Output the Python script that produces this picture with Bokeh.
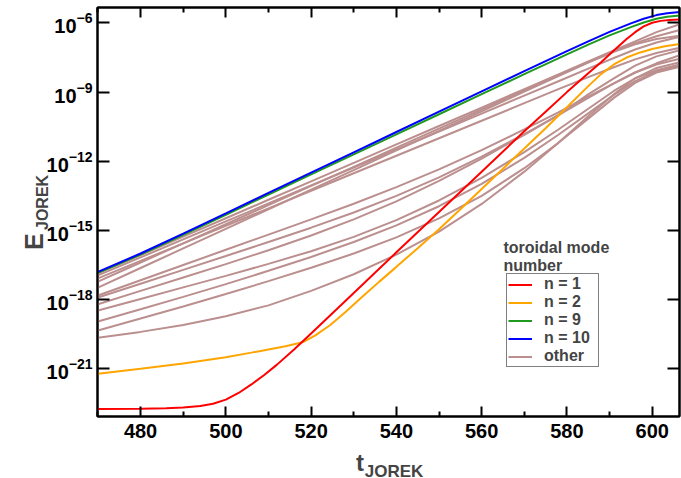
import numpy as np
from bokeh.plotting import figure
from bokeh.models import (Range1d, FixedTicker, LinearAxis, LogAxis, Legend,
                          LegendItem, Label)
from bokeh.embed import file_html
from bokeh.resources import INLINE

# ---------------- data ----------------
t_start, t_end = 469.9, 606.4
log_E_start, log_E_end = -23.07, -5.33

x_ticks = [480, 500, 520, 540, 560, 580, 600]
x_minor_ticks = [470, 490, 510, 530, 550, 570, 590, 610]
y_tick_exponents = [-21, -18, -15, -12, -9, -6]

# n = 10 (blue)
t_n10 = [470, 480, 490, 500, 510, 520, 530, 540, 550, 560, 570, 580, 585, 590, 595, 598, 601, 603.5, 606.5]
logE_n10 = [-16.80, -16.00, -15.14, -14.26, -13.37, -12.49, -11.61, -10.73, -9.85, -8.97,
            -8.09, -7.22, -6.80, -6.39, -6.02, -5.82, -5.66, -5.58, -5.53]
# n = 9 (green)
t_n9 = t_n10
logE_n9 = [-16.84, -16.05, -15.19, -14.32, -13.44, -12.57, -11.70, -10.83, -9.96, -9.09,
           -8.22, -7.36, -6.94, -6.54, -6.18, -5.98, -5.82, -5.73, -5.68]
# n = 1 (red)
t_n1 = [470, 480, 486, 490, 494, 497, 500, 503, 506, 509, 512, 516, 520, 530, 540, 550, 560,
        570, 575, 580, 585, 588, 591, 594, 596, 598, 600, 602, 604, 606.5]
logE_n1 = [-22.75, -22.73, -22.71, -22.68, -22.61, -22.52, -22.34, -22.05, -21.68, -21.27,
           -20.82, -20.16, -19.47, -17.71, -15.95, -14.20, -12.45, -10.70, -9.85, -9.00,
           -8.18, -7.70, -7.20, -6.70, -6.40, -6.15, -5.99, -5.91, -5.87, -5.85]
# n = 2 (orange)
t_n2 = [470, 480, 490, 500, 506, 510, 514, 518, 521, 524.5, 528, 532, 536, 540, 545, 550,
        555, 560, 565, 570, 575, 580, 585, 588, 591, 594, 597, 600, 603, 606.5]
logE_n2 = [-21.22, -21.00, -20.77, -20.50, -20.30, -20.16, -20.02, -19.85, -19.55, -19.10,
           -18.55, -17.88, -17.22, -16.58, -15.77, -14.95, -14.08, -13.20, -12.32, -11.45,
           -10.57, -9.66, -8.74, -8.22, -7.80, -7.50, -7.29, -7.13, -7.01, -6.91]
# other toroidal mode numbers (rosy brown)
t_other = [470, 480, 490, 500, 510, 520, 530, 540, 550, 560, 570, 578, 585, 591, 596, 601, 606.5]
logE_other = [
    [-16.86, -16.07, -15.27, -14.47, -13.67, -12.87, -12.07, -11.27, -10.47, -9.67, -8.87, -8.23, -7.67, -7.19, -6.80, -6.40, -6.05],
    [-16.95, -16.17, -15.39, -14.61, -13.83, -13.05, -12.27, -11.49, -10.71, -9.93, -9.15, -8.53, -7.98, -7.52, -7.15, -6.85, -6.60],
    [-17.08, -16.32, -15.56, -14.80, -14.04, -13.28, -12.52, -11.76, -11.00, -10.24, -9.48, -8.87, -8.35, -7.92, -7.58, -7.30, -7.08],
    [-17.22, -16.39, -15.56, -14.73, -13.90, -13.07, -12.24, -11.41, -10.58, -9.75, -8.92, -8.27, -7.70, -7.23, -6.88, -6.58, -6.30],
    [-17.48, -16.63, -15.78, -14.93, -14.08, -13.23, -12.38, -11.53, -10.68, -9.83, -8.98, -8.30, -7.72, -7.25, -6.93, -6.70, -6.55],
    [-17.82, -17.16, -16.50, -15.84, -15.18, -14.52, -13.84, -13.12, -12.35, -11.52, -10.62, -9.88, -9.20, -8.62, -8.15, -7.75, -7.40],
    [-17.91, -17.31, -16.71, -16.11, -15.50, -14.88, -14.22, -13.50, -12.70, -11.80, -10.82, -10.00, -9.10, -8.40, -7.85, -7.45, -7.18],
    [-18.20, -17.62, -17.04, -16.46, -15.86, -15.22, -14.52, -13.74, -12.85, -11.88, -10.85, -10.00, -9.25, -8.62, -8.15, -7.80, -7.55],
    [-18.47, -17.97, -17.47, -16.97, -16.45, -15.90, -15.28, -14.55, -13.70, -12.72, -11.60, -10.62, -9.72, -8.95, -8.40, -8.05, -7.80],
    [-18.95, -18.42, -17.88, -17.33, -16.75, -16.15, -15.50, -14.78, -13.95, -12.98, -11.85, -10.85, -9.92, -9.12, -8.52, -8.10, -7.85],
    [-19.34, -18.82, -18.30, -17.76, -17.20, -16.62, -16.00, -15.30, -14.48, -13.50, -12.30, -11.20, -10.15, -9.25, -8.60, -8.15, -7.90],
    [-19.65, -19.40, -19.10, -18.72, -18.25, -17.62, -16.90, -16.05, -15.05, -13.85, -12.45, -11.20, -10.05, -9.10, -8.40, -7.95, -7.70],
]

legend_labels = ["n = 1", "n = 2", "n = 9", "n = 10", "other"]
legend_title = ["toroidal mode", "number"]

# ---------------- styling ----------------
FONT = "Liberation Sans"
C_RED, C_ORANGE, C_GREEN, C_BLUE, C_OTHER = "#ff0000", "#ffa500", "#1f9a1f", "#0000ff", "#bc8f8f"

def E(vals):
    return 10.0 ** np.asarray(vals, dtype=float)

p = figure(width=681, height=478,
           x_range=Range1d(t_start, t_end),
           y_range=Range1d(10.0 ** log_E_start, 10.0 ** log_E_end),
           y_axis_type="log", output_backend="svg", toolbar_location=None,
           min_border_left=97, min_border_right=2, min_border_top=7, min_border_bottom=62)
p.xgrid.visible = False
p.ygrid.visible = False
p.outline_line_color = "black"
p.outline_line_width = 2
p.background_fill_color = "white"
p.border_fill_color = "white"

xt = FixedTicker(ticks=x_ticks, minor_ticks=x_minor_ticks)
yt = FixedTicker(ticks=[10.0 ** e for e in y_tick_exponents], minor_ticks=[])

for ax in p.xaxis:
    ax.ticker = xt
    ax.major_tick_in = 10
    ax.major_tick_out = 0
    ax.minor_tick_in = 5
    ax.minor_tick_out = 0
    ax.axis_line_width = 2
    ax.major_tick_line_width = 2
    ax.minor_tick_line_width = 2
    ax.major_label_text_font = FONT
    ax.major_label_text_font_style = "bold"
    ax.major_label_text_font_size = "20px"
    ax.major_label_text_color = "black"
    ax.major_label_standoff = 7

for ax in p.yaxis:
    ax.ticker = yt
    ax.major_tick_in = 12
    ax.major_tick_out = 0
    ax.minor_tick_line_color = None
    ax.axis_line_width = 2
    ax.major_tick_line_width = 2
    ax.major_label_text_font = FONT
    ax.major_label_text_font_style = "bold"
    ax.major_label_text_font_size = "20px"
    ax.major_label_text_color = "black"
    ax.major_label_standoff = 5

top = LinearAxis(ticker=xt, major_tick_in=10, major_tick_out=0, minor_tick_in=5, minor_tick_out=0,
                 axis_line_width=2, major_tick_line_width=2, minor_tick_line_width=2,
                 major_label_text_font_size="1px", major_label_text_color=None, major_label_standoff=0)
right = LogAxis(ticker=yt, major_tick_in=12, major_tick_out=0, minor_tick_line_color=None,
                axis_line_width=2, major_tick_line_width=2,
                major_label_text_font_size="1px", major_label_text_color=None, major_label_standoff=0)
p.add_layout(top, "above")
p.add_layout(right, "right")

# ---------------- lines ----------------
other_renderers = []
for vals in logE_other:
    r = p.line(t_other, E(vals), line_color=C_OTHER, line_width=2)
    other_renderers.append(r)
r_n2 = p.line(t_n2, E(logE_n2), line_color=C_ORANGE, line_width=2)
r_n1 = p.line(t_n1, E(logE_n1), line_color=C_RED, line_width=2)
r_n9 = p.line(t_n9, E(logE_n9), line_color=C_GREEN, line_width=2)
r_n10 = p.line(t_n10, E(logE_n10), line_color=C_BLUE, line_width=2)

legend = Legend(items=[LegendItem(label=legend_labels[0], renderers=[r_n1]),
                       LegendItem(label=legend_labels[1], renderers=[r_n2]),
                       LegendItem(label=legend_labels[2], renderers=[r_n9]),
                       LegendItem(label=legend_labels[3], renderers=[r_n10]),
                       LegendItem(label=legend_labels[4], renderers=[other_renderers[0]])],
                location=(409, 49), margin=0, padding=1, spacing=0,
                label_height=17, glyph_height=17, glyph_width=24, label_standoff=12, label_width=53,
                label_text_font=FONT, label_text_font_style="bold", label_text_font_size="16px",
                border_line_color="black", border_line_width=1.5,
                background_fill_color="white", background_fill_alpha=1.0)
p.add_layout(legend)

# legend title (outside the box, two lines)
for txt, dy in zip(legend_title, [169, 151]):
    p.add_layout(Label(x=t_end, y=10.0 ** log_E_start, x_offset=-176, y_offset=dy, text=txt,
                       text_font=FONT, text_font_style="bold", text_font_size="16px",
                       text_baseline="alphabetic", text_align="left"))

# axis titles with subscripts; placed in side panels (so they are not clipped to the frame),
# distributed so that the panels keep the frame where the reference has it
t_mid = 0.5 * (t_start + t_end)
log_mid = 0.5 * (log_E_start + log_E_end)
title_kw = dict(text_font=FONT, text_font_style="bold", text_baseline="alphabetic")
p.add_layout(Label(x=t_mid, y=10.0 ** log_E_start, x_offset=-23.7, y_offset=-54.7, text="JOREK",
                   text_font_size="17px", text_align="left", **title_kw), "below")
p.add_layout(Label(x=t_start, y=10.0 ** log_mid, x_offset=-64, y_offset=-38, text="E", angle=np.pi / 2,
                   text_font_size="25px", text_align="left", **title_kw), "below")
p.add_layout(Label(x=t_start, y=10.0 ** log_mid, x_offset=-55.3, y_offset=-18, text="JOREK", angle=np.pi / 2,
                   text_font_size="16px", text_align="left", **title_kw), "left")
p.add_layout(Label(x=t_mid, y=10.0 ** log_E_start, x_offset=-24.5, y_offset=-45.7, text="t",
                   text_font_size="24px", text_align="right", **title_kw), "left")

open("out.html", "w").write(file_html(p, INLINE))
